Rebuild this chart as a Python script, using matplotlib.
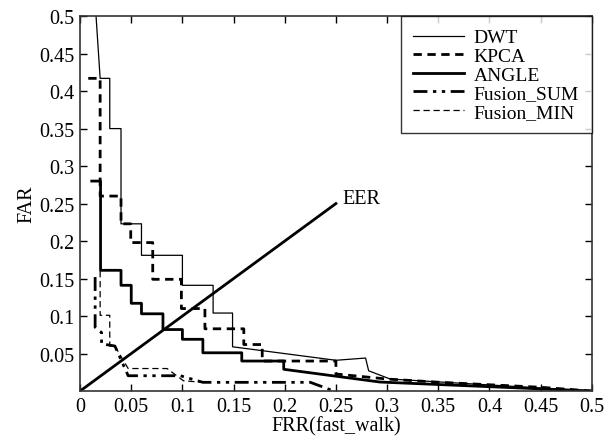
import matplotlib
matplotlib.use("Agg")
import matplotlib.pyplot as plt

plt.rcParams['font.family'] = ['Liberation Serif', 'DejaVu Serif']

# DWT (thin solid)
dwt_x = [0.0156, 0.0196, 0.029, 0.029, 0.040, 0.040, 0.060, 0.060, 0.100, 0.100, 0.130, 0.130,
         0.149, 0.149, 0.25, 0.279, 0.282, 0.303, 0.5]
dwt_y = [0.5, 0.417, 0.417, 0.35, 0.35, 0.223, 0.223, 0.181, 0.181, 0.141, 0.141, 0.104,
         0.104, 0.059, 0.041, 0.044, 0.027, 0.016, 0.0]

# KPCA (thick dashed)
kpca_x = [0.008, 0.0196, 0.0196, 0.040, 0.040, 0.0495, 0.0495, 0.071, 0.071, 0.099, 0.099,
          0.122, 0.122, 0.160, 0.160, 0.178, 0.178, 0.25, 0.25, 0.30, 0.352, 0.45, 0.5]
kpca_y = [0.417, 0.417, 0.26, 0.26, 0.223, 0.223, 0.198, 0.198, 0.149, 0.149, 0.110,
          0.110, 0.083, 0.083, 0.062, 0.062, 0.040, 0.040, 0.0227, 0.016, 0.0116, 0.005, 0.0]

# ANGLE (thick solid)
angle_x = [0.0114, 0.020, 0.020, 0.040, 0.040, 0.050, 0.050, 0.060, 0.060, 0.081, 0.081,
           0.100, 0.100, 0.120, 0.120, 0.158, 0.158, 0.199, 0.199, 0.293, 0.5]
angle_y = [0.28, 0.28, 0.161, 0.161, 0.141, 0.141, 0.117, 0.117, 0.103, 0.103, 0.082,
           0.082, 0.069, 0.069, 0.051, 0.051, 0.040, 0.040, 0.029, 0.012, 0.0]

# Fusion_SUM (dash-dot)
fsum_x = [0.0147, 0.0147, 0.021, 0.021, 0.034, 0.047, 0.098, 0.12, 0.225, 0.248]
fsum_y = [0.152, 0.085, 0.078, 0.063, 0.060, 0.0204, 0.0204, 0.0116, 0.0116, 0.0]

# Fusion_MIN (thin dashed)
fmin_x = [0.0196, 0.0196, 0.029, 0.029, 0.034, 0.047, 0.085, 0.101, 0.12]
fmin_y = [0.16, 0.101, 0.101, 0.060, 0.060, 0.030, 0.030, 0.0137, 0.0116]

# EER line
eer_x = [0.0, 0.25]
eer_y = [0.0, 0.25]

xticks = [0, 0.05, 0.1, 0.15, 0.2, 0.25, 0.3, 0.35, 0.4, 0.45, 0.5]
xtick_labels = ['0', '0.05', '0.1', '0.15', '0.2', '0.25', '0.3', '0.35', '0.4', '0.45', '0.5']
yticks = [0.05, 0.1, 0.15, 0.2, 0.25, 0.3, 0.35, 0.4, 0.45, 0.5]
ytick_labels = ['0.05', '0.1', '0.15', '0.2', '0.25', '0.3', '0.35', '0.4', '0.45', '0.5']

FS = 14.5

fig = plt.figure(figsize=(6.16, 4.39), dpi=100)
ax = fig.add_axes([0.13, 0.107, 0.8306, 0.854])

ax.plot(dwt_x, dwt_y, color='black', lw=0.9, label='DWT')
ax.plot(kpca_x, kpca_y, color='black', lw=2.0, linestyle=(0, (3, 2)), label='KPCA')
ax.plot(angle_x, angle_y, color='black', lw=2.0, label='ANGLE')
ax.plot(fsum_x, fsum_y, color='black', lw=2.0, linestyle=(0, (5, 2, 1.2, 2, 1.2, 2)), label='Fusion_SUM')
ax.plot(fmin_x, fmin_y, color='black', lw=0.9, linestyle=(0, (5, 3)), label='Fusion_MIN')
ax.plot(eer_x, eer_y, color='black', lw=2.0)
ax.text(0.256, 0.251, 'EER', fontsize=FS, ha='left', va='baseline')

ax.set_xlim(0, 0.5)
ax.set_ylim(0, 0.5)
ax.set_xticks(xticks)
ax.set_xticklabels(xtick_labels)
ax.set_yticks(yticks)
ax.set_yticklabels(ytick_labels)
ax.tick_params(direction='in', top=True, right=True, labelsize=FS, length=5, width=1, colors='black', pad=4)
for s in ax.spines.values():
    s.set_linewidth(1.2)
    s.set_color('#333333')

ax.set_xlabel('FRR(fast_walk)', fontsize=FS, labelpad=0)
ax.set_ylabel('FAR', fontsize=FS, labelpad=2)

leg = ax.legend(loc='upper right', fontsize=14, frameon=True, fancybox=False,
                edgecolor='black', borderaxespad=0, handlelength=2.6, handletextpad=0.5,
                labelspacing=0.05, borderpad=0.65)
leg.get_frame().set_linewidth(1.0)

fig.savefig('out.png', dpi=100)
